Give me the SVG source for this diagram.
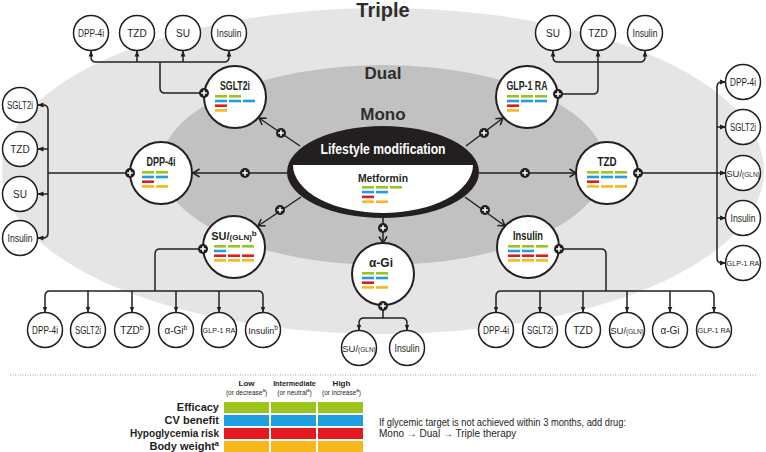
<svg xmlns="http://www.w3.org/2000/svg" width="766" height="452" viewBox="0 0 766 452">
<defs>
<style>
.t{font-family:'Liberation Sans',Arial,sans-serif;fill:#231f20;text-anchor:middle}
.h{font-weight:bold;font-size:12px}
.s{font-size:10px}
.big{font-weight:bold;fill:#2e2e2e}
.nc{fill:#fff;stroke:#231f20;stroke-width:2}
.sc{fill:#fff;stroke:#231f20;stroke-width:1.5}
.ln{fill:none;stroke:#231f20;stroke-width:1.5}
.ar{marker-end:url(#tri)}
.cv{marker-end:url(#chev)}
.g{fill:#9dc41a}.b{fill:#1d9fe0}.r{fill:#e3191f}.y{fill:#f6b81b}
.bar rect{height:2.6px;width:12px}
.leg rect{height:11px;width:45px}
.lt{font-family:'Liberation Sans',Arial,sans-serif;fill:#231f20;font-weight:bold;font-size:11px;text-anchor:end}
</style>
<marker id="tri" viewBox="0 0 6 6" refX="5.5" refY="3" markerWidth="6" markerHeight="6" markerUnits="userSpaceOnUse" orient="auto"><path d="M0,0.6 L6,3 L0,5.4 Z" fill="#231f20"/></marker>
<marker id="chev" viewBox="0 0 10 10" refX="8" refY="5" markerWidth="10" markerHeight="10" markerUnits="userSpaceOnUse" orient="auto"><path d="M1.5,1 L8,5 L1.5,9" fill="none" stroke="#231f20" stroke-width="1.5"/></marker>
<g id="plus"><circle r="5" fill="#231f20"/><path d="M-2.8,0H2.8M0,-2.8V2.8" stroke="#fff" stroke-width="1.6"/></g>
</defs>

<g id="background">
<ellipse cx="383" cy="171" rx="381" ry="163" fill="#e5e5e5"/>
<ellipse cx="383" cy="165" rx="222" ry="100" fill="#c1c1c1"/>
<text class="t big" x="383" y="17" font-size="20">Triple</text>
<text class="t big" x="383" y="79" font-size="17">Dual</text>
<text class="t big" x="383" y="120" font-size="17">Mono</text>
</g>

<g id="connectors" class="ln">
<path class="cv" d="M287,173 H193"/>
<path class="cv" d="M479,173 H576"/>
<path class="cv" d="M300,146 L259,118"/>
<path class="cv" d="M466,146 L503,118"/>
<path class="cv" d="M301,197 L258,226"/>
<path class="cv" d="M465,197 L505,226"/>
<path class="cv" d="M383,218 V243"/>
<path d="M204,93 H165 Q160,93 160,88 V62"/>
<path class="ar" d="M160,62 H96 Q91,62 91,57 V51"/>
<path class="ar" d="M160,62 H224 Q229,62 229,57 V51"/>
<path class="ar" d="M137,62 V51"/>
<path class="ar" d="M183,62 V51"/>
<path class="ar" d="M558,94 H593 Q598,94 598,89 V51"/>
<path class="ar" d="M598,62 H558 Q553,62 553,57 V51"/>
<path class="ar" d="M598,62 H640 Q645,62 645,57 V51"/>
<path d="M130,173 H48"/>
<path class="ar" d="M48,173 V110 Q48,105 43,105 H38"/>
<path class="ar" d="M48,173 V233 Q48,238 43,238 H38"/>
<path class="ar" d="M48,149 H38"/>
<path class="ar" d="M48,194 H38"/>
<path class="ar" d="M638,173 H725.5"/>
<path class="ar" d="M717,173 V87 Q717,82 722,82 H725.5"/>
<path class="ar" d="M717,173 V258 Q717,263 722,263 H725.5"/>
<path class="ar" d="M717,127 H725.5"/>
<path class="ar" d="M717,218 H725.5"/>
<path d="M203,249 H160 Q155,249 155,254 V291"/>
<path class="ar" d="M155,291 H50 Q45,291 45,296 V312"/>
<path class="ar" d="M155,291 H258 Q263,291 263,296 V312"/>
<path class="ar" d="M88,291 V312"/>
<path class="ar" d="M132,291 V312"/>
<path class="ar" d="M176,291 V312"/>
<path class="ar" d="M219,291 V312"/>
<path d="M559,249 H601 Q606,249 606,254 V291"/>
<path class="ar" d="M606,291 H501 Q496,291 496,296 V312"/>
<path class="ar" d="M606,291 H709 Q714,291 714,296 V312"/>
<path class="ar" d="M540,291 V312"/>
<path class="ar" d="M583,291 V312"/>
<path class="ar" d="M627,291 V312"/>
<path class="ar" d="M670,291 V312"/>
<path d="M383,306 V318"/>
<path class="ar" d="M383,318 H364 Q359,318 359,323 V330"/>
<path class="ar" d="M383,318 H402 Q407,318 407,323 V330"/>
</g>

<g id="center">
<ellipse cx="383" cy="172" rx="96" ry="46" fill="#231f20"/>
<path d="M293,165 A90,48 0 0 0 473,165 Z" fill="#fff"/>
<text class="t" x="383" y="154" font-size="14" font-weight="bold" style="fill:#fff" textLength="125" lengthAdjust="spacingAndGlyphs">Lifestyle modification</text>
<text class="t" x="383" y="182" font-size="11" font-weight="bold" textLength="50" lengthAdjust="spacingAndGlyphs">Metformin</text>
<g class="bar">
<rect class="g" x="362" y="186"/><rect class="g" x="376" y="186"/><rect class="g" x="390" y="186"/>
<rect class="b" x="362" y="190.8"/><rect class="b" x="376" y="190.8"/>
<rect class="r" x="362" y="195.6"/>
<rect class="y" x="362" y="200.4"/><rect class="y" x="376" y="200.4"/>
</g>
</g>

<g id="node-sglt2i">
<circle class="nc" cx="235" cy="97" r="31"/>
<text class="t h" x="235" y="90" textLength="30" lengthAdjust="spacingAndGlyphs">SGLT2i</text>
<g class="bar">
<rect class="g" x="215" y="95"/><rect class="g" x="229" y="95"/>
<rect class="b" x="215" y="99.7"/><rect class="b" x="229" y="99.7"/><rect class="b" x="243" y="99.7"/>
<rect class="r" x="215" y="104.4"/>
<rect class="y" x="215" y="109.1"/>
</g>
</g>

<g id="node-glp1ra">
<circle class="nc" cx="527" cy="97" r="31"/>
<text class="t h" x="527" y="90" textLength="41" lengthAdjust="spacingAndGlyphs">GLP-1 RA</text>
<g class="bar">
<rect class="g" x="507" y="95"/><rect class="g" x="521" y="95"/><rect class="g" x="535" y="95"/>
<rect class="b" x="507" y="99.7"/><rect class="b" x="521" y="99.7"/><rect class="b" x="535" y="99.7"/>
<rect class="r" x="507" y="104.4"/>
<rect class="y" x="507" y="109.1"/>
</g>
</g>

<g id="node-dpp4i">
<circle class="nc" cx="161" cy="173" r="31"/>
<text class="t h" x="161" y="166" textLength="29" lengthAdjust="spacingAndGlyphs">DPP-4i</text>
<g class="bar">
<rect class="g" x="142" y="171"/><rect class="g" x="156" y="171"/>
<rect class="b" x="142" y="175.7"/><rect class="b" x="156" y="175.7"/>
<rect class="r" x="142" y="180.4"/>
<rect class="y" x="142" y="185.1"/><rect class="y" x="156" y="185.1"/>
</g>
</g>

<g id="node-tzd">
<circle class="nc" cx="607" cy="173" r="31"/>
<text class="t h" x="607" y="166" textLength="19" lengthAdjust="spacingAndGlyphs">TZD</text>
<g class="bar">
<rect class="g" x="587" y="171"/><rect class="g" x="601" y="171"/><rect class="g" x="615" y="171"/>
<rect class="b" x="587" y="175.7"/><rect class="b" x="601" y="175.7"/><rect class="b" x="615" y="175.7"/>
<rect class="r" x="587" y="180.4"/>
<rect class="y" x="587" y="185.1"/><rect class="y" x="601" y="185.1"/><rect class="y" x="615" y="185.1"/>
</g>
</g>

<g id="node-su">
<circle class="nc" cx="234" cy="247" r="31"/>
<text class="t h" x="234" y="240"><tspan font-size="11">SU/</tspan><tspan font-size="8">(GLN)</tspan><tspan font-size="8" dy="-4">b</tspan></text>
<g class="bar">
<rect class="g" x="214" y="245"/><rect class="g" x="228" y="245"/><rect class="g" x="242" y="245"/>
<rect class="b" x="214" y="249.7"/>
<rect class="r" x="214" y="254.4"/><rect class="r" x="228" y="254.4"/><rect class="r" x="242" y="254.4"/>
<rect class="y" x="214" y="259.1"/><rect class="y" x="228" y="259.1"/><rect class="y" x="242" y="259.1"/>
</g>
</g>

<g id="node-insulin">
<circle class="nc" cx="528" cy="247" r="31"/>
<text class="t h" x="528" y="240" textLength="30" lengthAdjust="spacingAndGlyphs">Insulin</text>
<g class="bar">
<rect class="g" x="508" y="245"/><rect class="g" x="522" y="245"/><rect class="g" x="536" y="245"/>
<rect class="b" x="508" y="249.7"/><rect class="b" x="522" y="249.7"/>
<rect class="r" x="508" y="254.4"/><rect class="r" x="522" y="254.4"/><rect class="r" x="536" y="254.4"/>
<rect class="y" x="508" y="259.1"/><rect class="y" x="522" y="259.1"/><rect class="y" x="536" y="259.1"/>
</g>
</g>

<g id="node-agi">
<circle class="nc" cx="383" cy="274" r="31"/>
<text class="t h" x="381" y="267">α-Gi</text>
<g class="bar">
<rect class="g" x="362" y="272"/><rect class="g" x="376" y="272"/>
<rect class="b" x="362" y="276.7"/><rect class="b" x="376" y="276.7"/>
<rect class="r" x="362" y="281.4"/>
<rect class="y" x="362" y="286.1"/><rect class="y" x="376" y="286.1"/>
</g>
</g>

<g id="triple-sglt2i">
<g id="ts1"><circle class="sc" cx="91" cy="33" r="17.5"/><text class="t s" x="91" y="36.5" textLength="26" lengthAdjust="spacingAndGlyphs">DPP-4i</text></g>
<g id="ts2"><circle class="sc" cx="137" cy="33" r="17.5"/><text class="t s" x="137" y="36.5">TZD</text></g>
<g id="ts3"><circle class="sc" cx="183" cy="33" r="17.5"/><text class="t s" x="183" y="36.5">SU</text></g>
<g id="ts4"><circle class="sc" cx="229" cy="33" r="17.5"/><text class="t s" x="229" y="36.5" textLength="25" lengthAdjust="spacingAndGlyphs">Insulin</text></g>
</g>

<g id="triple-glp1">
<g id="tg1"><circle class="sc" cx="553" cy="33" r="17.5"/><text class="t s" x="553" y="36.5">SU</text></g>
<g id="tg2"><circle class="sc" cx="598" cy="33" r="17.5"/><text class="t s" x="598" y="36.5">TZD</text></g>
<g id="tg3"><circle class="sc" cx="645" cy="33" r="17.5"/><text class="t s" x="645" y="36.5" textLength="25" lengthAdjust="spacingAndGlyphs">Insulin</text></g>
</g>

<g id="triple-dpp4i">
<g id="td1"><circle class="sc" cx="20" cy="105" r="17.5"/><text class="t s" x="20" y="108.5" textLength="26" lengthAdjust="spacingAndGlyphs">SGLT2i</text></g>
<g id="td2"><circle class="sc" cx="20" cy="149" r="17.5"/><text class="t s" x="20" y="152.5">TZD</text></g>
<g id="td3"><circle class="sc" cx="20" cy="194" r="17.5"/><text class="t s" x="20" y="197.5">SU</text></g>
<g id="td4"><circle class="sc" cx="20" cy="238" r="17.5"/><text class="t s" x="20" y="241.5" textLength="25" lengthAdjust="spacingAndGlyphs">Insulin</text></g>
</g>

<g id="triple-tzd">
<g id="tt1"><circle class="sc" cx="743" cy="82" r="17.5"/><text class="t s" x="743" y="85.5" textLength="26" lengthAdjust="spacingAndGlyphs">DPP-4i</text></g>
<g id="tt2"><circle class="sc" cx="743" cy="127" r="17.5"/><text class="t s" x="743" y="130.5" textLength="26" lengthAdjust="spacingAndGlyphs">SGLT2i</text></g>
<g id="tt3"><circle class="sc" cx="743" cy="173" r="17.5"/><text class="t" x="743" y="176.5" font-size="9.5">SU/<tspan font-size="6.5">(GLN)</tspan></text></g>
<g id="tt4"><circle class="sc" cx="743" cy="218" r="17.5"/><text class="t s" x="743" y="221.5" textLength="25" lengthAdjust="spacingAndGlyphs">Insulin</text></g>
<g id="tt5"><circle class="sc" cx="743" cy="263" r="17.5"/><text class="t" x="743" y="266" font-size="7.2">GLP-1 RA</text></g>
</g>

<g id="triple-su">
<g id="tu1"><circle class="sc" cx="45" cy="330" r="17.5"/><text class="t s" x="45" y="333.5" textLength="26" lengthAdjust="spacingAndGlyphs">DPP-4i</text></g>
<g id="tu2"><circle class="sc" cx="88" cy="330" r="17.5"/><text class="t s" x="88" y="333.5" textLength="26" lengthAdjust="spacingAndGlyphs">SGLT2i</text></g>
<g id="tu3"><circle class="sc" cx="132" cy="330" r="17.5"/><text class="t s" x="132" y="333.5">TZD<tspan font-size="7" dy="-4">b</tspan></text></g>
<g id="tu4"><circle class="sc" cx="176" cy="330" r="17.5"/><text class="t s" x="176" y="333.5">α-Gi<tspan font-size="7" dy="-4">b</tspan></text></g>
<g id="tu5"><circle class="sc" cx="219" cy="330" r="17.5"/><text class="t" x="219" y="333" font-size="7.2">GLP-1 RA</text></g>
<g id="tu6"><circle class="sc" cx="263" cy="330" r="17.5"/><text class="t" x="263" y="333.5" font-size="9">Insulin<tspan font-size="6.5" dy="-4">b</tspan></text></g>
</g>

<g id="triple-insulin">
<g id="ti1"><circle class="sc" cx="496" cy="330" r="17.5"/><text class="t s" x="496" y="333.5" textLength="26" lengthAdjust="spacingAndGlyphs">DPP-4i</text></g>
<g id="ti2"><circle class="sc" cx="540" cy="330" r="17.5"/><text class="t s" x="540" y="333.5" textLength="26" lengthAdjust="spacingAndGlyphs">SGLT2i</text></g>
<g id="ti3"><circle class="sc" cx="583" cy="330" r="17.5"/><text class="t s" x="583" y="333.5">TZD</text></g>
<g id="ti4"><circle class="sc" cx="627" cy="330" r="17.5"/><text class="t" x="627" y="333.5" font-size="9.5">SU/<tspan font-size="6.5">(GLN)</tspan></text></g>
<g id="ti5"><circle class="sc" cx="670" cy="330" r="17.5"/><text class="t s" x="670" y="333.5">α-Gi</text></g>
<g id="ti6"><circle class="sc" cx="714" cy="330" r="17.5"/><text class="t" x="714" y="333" font-size="7.2">GLP-1 RA</text></g>
</g>

<g id="triple-agi">
<g id="ta1"><circle class="sc" cx="359" cy="348" r="17.5"/><text class="t" x="359" y="351.5" font-size="9.5">SU/<tspan font-size="6.5">(GLN)</tspan></text></g>
<g id="ta2"><circle class="sc" cx="407" cy="348" r="17.5"/><text class="t s" x="407" y="351.5" textLength="25" lengthAdjust="spacingAndGlyphs">Insulin</text></g>
</g>

<g id="plus-markers">
<use href="#plus" x="245" y="173"/>
<use href="#plus" x="525" y="173"/>
<use href="#plus" x="281" y="133"/>
<use href="#plus" x="484" y="133"/>
<use href="#plus" x="280" y="210"/>
<use href="#plus" x="485" y="210"/>
<use href="#plus" x="383" y="228"/>
<use href="#plus" x="204" y="93"/>
<use href="#plus" x="558" y="94"/>
<use href="#plus" x="130" y="173"/>
<use href="#plus" x="638" y="173"/>
<use href="#plus" x="203" y="249"/>
<use href="#plus" x="559" y="249"/>
<use href="#plus" x="383" y="306"/>
</g>

<g id="legend">
<line x1="10" y1="375" x2="757" y2="375" stroke="#9a9a9a" stroke-width="1" stroke-dasharray="1,1.5"/>
<text class="t" x="246.5" y="385.5" font-size="8" font-weight="bold">Low</text>
<text class="t" x="294.5" y="385.5" font-size="7.2" font-weight="bold">Intermediate</text>
<text class="t" x="341.5" y="385.5" font-size="8" font-weight="bold">High</text>
<text class="t" x="246.5" y="394.5" font-size="6.5">(or decrease<tspan font-size="4.5" dy="-2.5">a</tspan><tspan dy="2.5">)</tspan></text>
<text class="t" x="294.5" y="394.5" font-size="6.5">(or neutral<tspan font-size="4.5" dy="-2.5">a</tspan><tspan dy="2.5">)</tspan></text>
<text class="t" x="341.5" y="394.5" font-size="6.5">(or increase<tspan font-size="4.5" dy="-2.5">a</tspan><tspan dy="2.5">)</tspan></text>
<g class="leg">
<rect class="g" x="224" y="402"/><rect class="g" x="271" y="402"/><rect class="g" x="318" y="402"/>
<rect class="b" x="224" y="415"/><rect class="b" x="271" y="415"/><rect class="b" x="318" y="415"/>
<rect class="r" x="224" y="428"/><rect class="r" x="271" y="428"/><rect class="r" x="318" y="428"/>
<rect class="y" x="224" y="441"/><rect class="y" x="271" y="441"/><rect class="y" x="318" y="441"/>
</g>
<text class="lt" x="219" y="411">Efficacy</text>
<text class="lt" x="219" y="424">CV benefit</text>
<text class="lt" x="219" y="437" textLength="89" lengthAdjust="spacingAndGlyphs">Hypoglycemia risk</text>
<text class="lt" x="219" y="450">Body weight<tspan font-size="7.5" dy="-4">a</tspan></text>
<text class="t" x="379" y="426" font-size="10" style="text-anchor:start" textLength="247" lengthAdjust="spacingAndGlyphs">If glycemic target is not achieved within 3 months, add drug:</text>
<text class="t" x="379" y="437" font-size="10" style="text-anchor:start">Mono → Dual  → Triple therapy</text>
</g>
</svg>
